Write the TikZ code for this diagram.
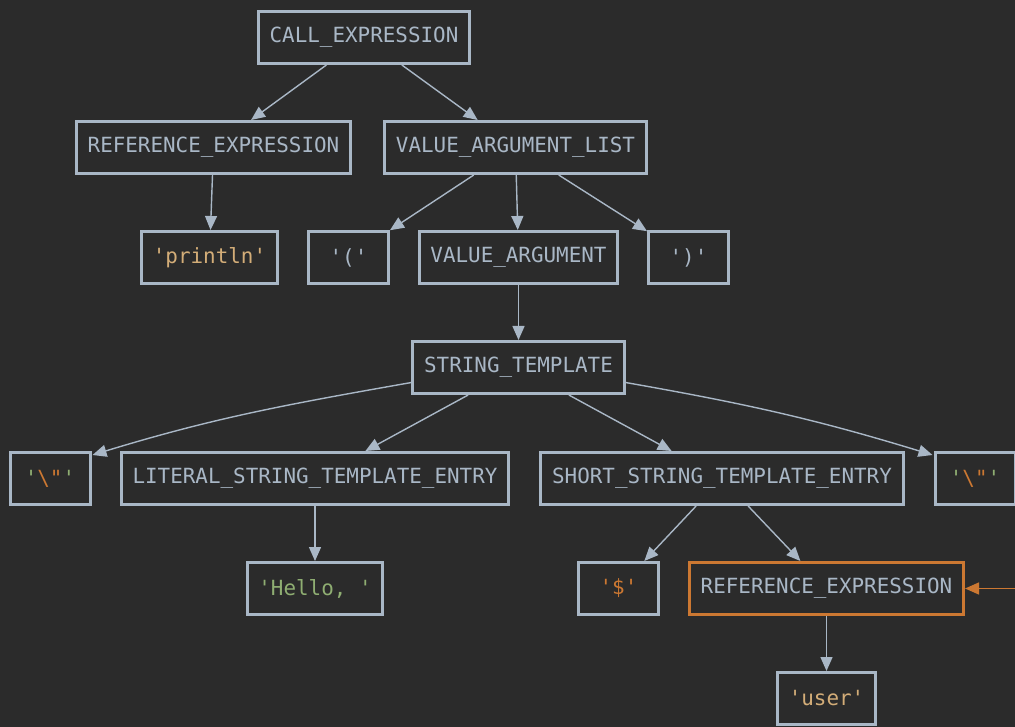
\documentclass[tikz,border=0pt]{standalone}
\usepackage{fontspec}
\setmonofont{DejaVu Sans Mono}
\usepackage{tikz}
\usetikzlibrary{calc,shapes,positioning}
\usetikzlibrary{arrows.meta}
\tikzset{>={Triangle[width=12pt,length=14pt]}}

\definecolor{bgc}{HTML}{2B2B2B}
\definecolor{fgc}{HTML}{A9B7C6}
\definecolor{kwc}{HTML}{CC7832}
\definecolor{strc}{HTML}{D3AD78}
\definecolor{grc}{HTML}{8FAE72}

\newcommand{\esc}{{\color{grc}'}{\color{kwc}\textbackslash"}{\color{grc}'}}

\begin{document}
\begin{tikzpicture}[x=1pt,y=-1pt]
        \tikzstyle{tnode} = [draw=fgc, line width=3pt, rectangle, text=fgc, inner xsep=11.2pt, inner ysep=0pt,
                             minimum height=52pt, minimum width=80pt,
                             font=\ttfamily\fontsize{20.9}{25}\selectfont]
        \tikzstyle{hnode} = [tnode, draw=kwc]
        \tikzstyle{edge} = [->, fgc, line width=1.4pt]

        \fill[bgc] (0,0) rectangle (1015,727);
        \useasboundingbox (0,0) rectangle (1015,727);
        \clip (0,0) rectangle (1015,727);

        \node[tnode] (n0) at (364,37.5) {CALL\_EXPRESSION};

        \node[tnode] (n11) at (213.5,147.5) {REFERENCE\_EXPRESSION};
        \node[tnode] (n12) at (515.5,147.5) {VALUE\_ARGUMENT\_LIST};

        \node[tnode] (n21) at (209.5,257.5) {\color{strc}'println'};
        \node[tnode] (n22) at (348.5,257.5) {'('};
        \node[tnode] (n23) at (518.5,257.5) {VALUE\_ARGUMENT};
        \node[tnode] (n24) at (688.5,257.5) {')'};

        \node[tnode] (n31) at (518.5,367.5) {STRING\_TEMPLATE};

        \node[tnode] (n41) at (50,478.5) {\esc};
        \node[tnode] (n42) at (315,478.5) {LITERAL\_STRING\_TEMPLATE\_ENTRY};
        \node[tnode] (n43) at (722,478.5) {SHORT\_STRING\_TEMPLATE\_ENTRY};
        \node[tnode] (n44) at (975,478.5) {\esc};

        \node[tnode] (n51) at (315,588.5) {\color{grc}'Hello,\ '};
        \node[tnode] (n52) at (618.5,588.5) {\color{kwc}'\$'};
        \node[hnode] (n53) at (826.5,588.5) {REFERENCE\_EXPRESSION};

        \node[tnode] (n61) at (826.5,698.5) {\color{strc}'user'};

        \coordinate (ptr) at (1016,588.5);

        \draw[edge] (n0) -- (n11);
        \draw[edge] (n0) -- (n12);
        \draw[edge] (n11) -- (n21);
        \draw[edge] (n12) -- (n22);
        \draw[edge] (n12) -- (n23);
        \draw[edge] (n12) -- (n24);
        \draw[edge] (n23) -- (n31);

        \draw[edge] ([yshift=-15pt]n31.west) to[out=190,in=17] ([xshift=1pt,yshift=-4pt]n41.north east);
        \draw[edge] (n31) -- (n42);
        \draw[edge] (n31) -- (n43);
        \draw[edge] ([yshift=-15pt]n31.east) to[out=-10,in=163] ([xshift=-1pt,yshift=-4pt]n44.north west);

        \draw[edge] (n42) -- (n51);
        \draw[edge] (n43) -- (n52);
        \draw[edge] (n43) -- (n53);
        \draw[edge] (n53) -- (n61);

        \draw[edge, kwc] (ptr) -- (n53.east);
\end{tikzpicture}
\end{document}
